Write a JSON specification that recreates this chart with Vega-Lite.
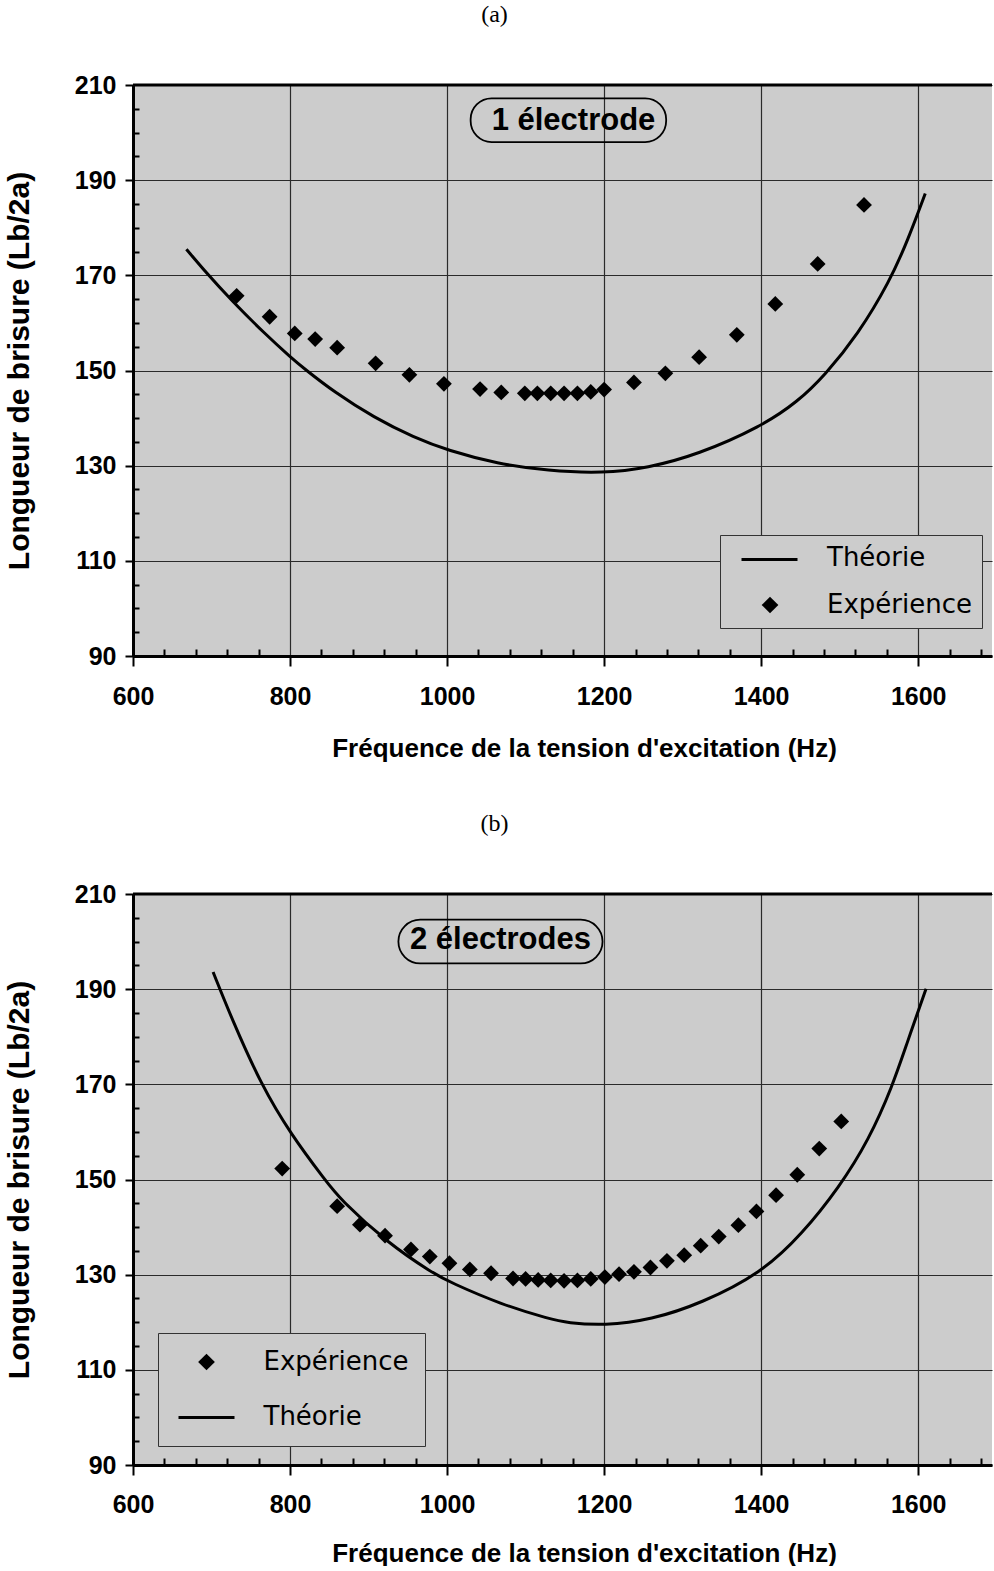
{
  "$schema": "https://vega.github.io/schema/vega-lite/v6.json",
  "padding": {"left": 4, "top": 3, "right": 0, "bottom": 0},
  "config": {
    "view": {"stroke": null, "fill": "#cccccc"},
    "concat": {"spacing": 51},
    "title": {"font": "Liberation Serif", "fontSize": 24, "fontWeight": "normal", "color": "black", "anchor": "middle"}
  },
  "resolve": {
    "scale": {"shape": "independent", "color": "independent"},
    "legend": {"shape": "independent", "color": "independent"}
  },
  "datasets": {
    "expA": [
      {"f": 732, "L": 165.7, "s": "Expérience"},
      {"f": 774, "L": 161.3, "s": "Expérience"},
      {"f": 806, "L": 157.8, "s": "Expérience"},
      {"f": 832, "L": 156.6, "s": "Expérience"},
      {"f": 860, "L": 154.8, "s": "Expérience"},
      {"f": 909, "L": 151.5, "s": "Expérience"},
      {"f": 952, "L": 149.1, "s": "Expérience"},
      {"f": 996, "L": 147.2, "s": "Expérience"},
      {"f": 1042, "L": 146.1, "s": "Expérience"},
      {"f": 1069, "L": 145.4, "s": "Expérience"},
      {"f": 1099, "L": 145.2, "s": "Expérience"},
      {"f": 1115, "L": 145.2, "s": "Expérience"},
      {"f": 1132, "L": 145.2, "s": "Expérience"},
      {"f": 1149, "L": 145.2, "s": "Expérience"},
      {"f": 1166, "L": 145.2, "s": "Expérience"},
      {"f": 1183, "L": 145.5, "s": "Expérience"},
      {"f": 1200, "L": 146.0, "s": "Expérience"},
      {"f": 1238, "L": 147.5, "s": "Expérience"},
      {"f": 1278, "L": 149.4, "s": "Expérience"},
      {"f": 1321, "L": 152.8, "s": "Expérience"},
      {"f": 1369, "L": 157.5, "s": "Expérience"},
      {"f": 1418, "L": 164.0, "s": "Expérience"},
      {"f": 1472, "L": 172.4, "s": "Expérience"},
      {"f": 1531, "L": 184.8, "s": "Expérience"}
    ],
    "theoA": [
      {"f": 668, "L": 175.5, "s": "Théorie"}, {"f": 694, "L": 170.4, "s": "Théorie"},
      {"f": 725, "L": 164.8, "s": "Théorie"}, {"f": 768, "L": 157.7, "s": "Théorie"},
      {"f": 802, "L": 152.6, "s": "Théorie"}, {"f": 818, "L": 150.4, "s": "Théorie"},
      {"f": 856, "L": 145.5, "s": "Théorie"}, {"f": 907, "L": 140.1, "s": "Théorie"},
      {"f": 958, "L": 135.9, "s": "Théorie"}, {"f": 1001, "L": 133.2, "s": "Théorie"},
      {"f": 1064, "L": 130.4, "s": "Théorie"}, {"f": 1128, "L": 128.9, "s": "Théorie"},
      {"f": 1199, "L": 128.4, "s": "Théorie"}, {"f": 1255, "L": 129.5, "s": "Théorie"},
      {"f": 1319, "L": 132.3, "s": "Théorie"}, {"f": 1400, "L": 138.2, "s": "Théorie"},
      {"f": 1447, "L": 143.5, "s": "Théorie"}, {"f": 1481, "L": 149.0, "s": "Théorie"},
      {"f": 1523, "L": 157.5, "s": "Théorie"}, {"f": 1564, "L": 168.8, "s": "Théorie"},
      {"f": 1587, "L": 177.5, "s": "Théorie"}, {"f": 1609, "L": 187.2, "s": "Théorie"}
    ],
    "expB": [
      {"f": 790, "L": 152.3, "s": "Expérience"},
      {"f": 860, "L": 144.4, "s": "Expérience"},
      {"f": 889, "L": 140.5, "s": "Expérience"},
      {"f": 921, "L": 138.2, "s": "Expérience"},
      {"f": 954, "L": 135.3, "s": "Expérience"},
      {"f": 978, "L": 133.8, "s": "Expérience"},
      {"f": 1003, "L": 132.4, "s": "Expérience"},
      {"f": 1029, "L": 131.1, "s": "Expérience"},
      {"f": 1056, "L": 130.3, "s": "Expérience"},
      {"f": 1084, "L": 129.2, "s": "Expérience"},
      {"f": 1100, "L": 129.1, "s": "Expérience"},
      {"f": 1116, "L": 128.9, "s": "Expérience"},
      {"f": 1132, "L": 128.8, "s": "Expérience"},
      {"f": 1149, "L": 128.7, "s": "Expérience"},
      {"f": 1166, "L": 128.8, "s": "Expérience"},
      {"f": 1183, "L": 129.1, "s": "Expérience"},
      {"f": 1201, "L": 129.5, "s": "Expérience"},
      {"f": 1219, "L": 130.1, "s": "Expérience"},
      {"f": 1238, "L": 130.6, "s": "Expérience"},
      {"f": 1259, "L": 131.5, "s": "Expérience"},
      {"f": 1280, "L": 132.9, "s": "Expérience"},
      {"f": 1302, "L": 134.1, "s": "Expérience"},
      {"f": 1323, "L": 136.1, "s": "Expérience"},
      {"f": 1346, "L": 138.0, "s": "Expérience"},
      {"f": 1371, "L": 140.4, "s": "Expérience"},
      {"f": 1394, "L": 143.3, "s": "Expérience"},
      {"f": 1419, "L": 146.7, "s": "Expérience"},
      {"f": 1446, "L": 151.0, "s": "Expérience"},
      {"f": 1474, "L": 156.5, "s": "Expérience"},
      {"f": 1502, "L": 162.2, "s": "Expérience"}
    ],
    "theoB": [
      {"f": 702, "L": 193.6, "s": "Théorie"}, {"f": 727, "L": 183.3, "s": "Théorie"},
      {"f": 763, "L": 170.0, "s": "Théorie"}, {"f": 801, "L": 159.5, "s": "Théorie"},
      {"f": 846, "L": 149.6, "s": "Théorie"}, {"f": 863, "L": 146.0, "s": "Théorie"},
      {"f": 923, "L": 136.8, "s": "Théorie"}, {"f": 983, "L": 130.2, "s": "Théorie"},
      {"f": 1004, "L": 128.4, "s": "Théorie"}, {"f": 1068, "L": 123.8, "s": "Théorie"},
      {"f": 1132, "L": 120.6, "s": "Théorie"}, {"f": 1153, "L": 119.9, "s": "Théorie"},
      {"f": 1200, "L": 119.3, "s": "Théorie"}, {"f": 1260, "L": 120.5, "s": "Théorie"},
      {"f": 1324, "L": 124.0, "s": "Théorie"}, {"f": 1400, "L": 130.3, "s": "Théorie"},
      {"f": 1452, "L": 138.5, "s": "Théorie"}, {"f": 1500, "L": 148.5, "s": "Théorie"},
      {"f": 1537, "L": 158.3, "s": "Théorie"}, {"f": 1567, "L": 169.5, "s": "Théorie"},
      {"f": 1586, "L": 178.8, "s": "Théorie"}, {"f": 1610, "L": 190.1, "s": "Théorie"}
    ]
  },
  "vconcat": [
    {
      "title": {"text": "(a)", "dx": -68, "offset": 46},
      "width": 859,
      "height": 571,
      "encoding": {
        "x": {
          "field": "f", "type": "quantitative",
          "scale": {"domain": [600, 1694], "nice": false, "zero": false},
          "axis": {
            "values": [600,640,680,720,760,800,840,880,920,960,1000,1040,1080,1120,1160,1200,1240,1280,1320,1360,1400,1440,1480,1520,1560,1600,1640,1680],
            "format": "d",
            "labelExpr": "(datum.value - 600) % 200 === 0 ? datum.label : ''",
            "tickSize": {"condition": {"test": "(datum.value - 600) % 200 === 0", "value": 10}, "value": -7},
            "grid": true,
            "gridColor": "#2a2a2a",
            "gridWidth": 1.2,
            "gridOpacity": {"condition": {"test": "(datum.value - 600) % 200 === 0", "value": 1}, "value": 0},
            "domainColor": "black", "domainWidth": 3,
            "tickColor": "black", "tickWidth": 2,
            "labelFont": "Liberation Sans", "labelFontWeight": "bold", "labelFontSize": 25, "labelColor": "black",
            "labelPadding": 18, "labelOverlap": false, "labelFlush": false, "labelBound": false,
            "title": "Fréquence de la tension d'excitation (Hz)",
            "titleFont": "Liberation Sans", "titleFontWeight": "bold", "titleFontSize": 26, "titleColor": "black",
            "titlePadding": 26, "titleX": 451
          }
        },
        "y": {
          "field": "L", "type": "quantitative",
          "scale": {"domain": [90, 210], "nice": false, "zero": false},
          "axis": {
            "values": [90,95,100,105,110,115,120,125,130,135,140,145,150,155,160,165,170,175,180,185,190,195,200,205,210],
            "format": "d",
            "labelExpr": "(datum.value - 90) % 20 === 0 ? datum.label : ''",
            "tickSize": {"condition": {"test": "(datum.value - 90) % 20 === 0", "value": 8}, "value": -6},
            "grid": true,
            "gridColor": "#2a2a2a",
            "gridWidth": 1.2,
            "gridOpacity": {"condition": {"test": "(datum.value - 90) % 20 === 0", "value": 1}, "value": 0},
            "domainColor": "black", "domainWidth": 3,
            "tickColor": "black", "tickWidth": 2,
            "labelFont": "Liberation Sans", "labelFontWeight": "bold", "labelFontSize": 25, "labelColor": "black",
            "labelPadding": 9, "labelOverlap": false, "labelBound": false,
            "title": "Longueur de brisure (Lb/2a)",
            "titleFont": "Liberation Sans", "titleFontWeight": "bold", "titleFontSize": 30, "titleColor": "black",
            "titlePadding": 40
          }
        }
      },
      "layer": [
        {
          "data": {"values": [{"f": 1030, "f2": 1279, "L": 198.0, "L2": 207.2}]},
          "mark": {"type": "rect", "filled": false, "stroke": "black", "strokeWidth": 1.8, "cornerRadius": 21},
          "encoding": {"x2": {"field": "f2"}, "y2": {"field": "L2"}}
        },
        {
          "data": {"values": [{"f": 1161, "L": 202.4, "t": "1 électrode"}]},
          "mark": {"type": "text", "font": "Liberation Sans", "fontWeight": "bold", "fontSize": 31, "color": "black", "align": "center", "baseline": "middle"},
          "encoding": {"text": {"field": "t"}}
        },
        {
          "data": {"values": [{"f": 600, "f2": 1694, "L": 210}]},
          "mark": {"type": "rule", "color": "black", "strokeWidth": 3},
          "encoding": {"x2": {"field": "f2"}}
        },
        {
          "data": {"name": "expA"},
          "mark": {"type": "point", "filled": true, "color": "black", "opacity": 1, "size": 250},
          "encoding": {
            "shape": {
              "field": "s", "type": "nominal",
              "scale": {"domain": ["Théorie", "Expérience"], "range": ["stroke", "diamond"]},
              "legend": {
                "orient": "none", "legendX": 587, "legendY": 450, "title": null,
                "fillColor": "#cccccc", "strokeColor": "#333333", "padding": 10,
                "symbolSize": 280, "symbolOffset": 27, "symbolFillColor": "black",
                "labelFont": "DejaVu Sans", "labelFontSize": 26, "labelColor": "black", "labelOffset": 44, "rowPadding": 21
              }
            }
          }
        },
        {
          "data": {"name": "theoA"},
          "mark": {"type": "line", "strokeWidth": 3, "interpolate": "basis"},
          "encoding": {
            "color": {
              "field": "s", "type": "nominal",
              "scale": {"domain": ["Théorie"], "range": ["black"]},
              "legend": {
                "orient": "none", "legendX": 607, "legendY": 445, "title": null,
                "padding": 0, "symbolType": "stroke", "symbolSize": 3136, "symbolStrokeWidth": 3,
                "symbolStrokeColor": "black", "labelExpr": "''", "labelFontSize": 1
              }
            }
          }
        }
      ]
    },
    {
      "title": {"text": "(b)", "dx": -68, "offset": 46},
      "width": 859,
      "height": 571,
      "encoding": {
        "x": {
          "field": "f", "type": "quantitative",
          "scale": {"domain": [600, 1694], "nice": false, "zero": false},
          "axis": {
            "values": [600,640,680,720,760,800,840,880,920,960,1000,1040,1080,1120,1160,1200,1240,1280,1320,1360,1400,1440,1480,1520,1560,1600,1640,1680],
            "format": "d",
            "labelExpr": "(datum.value - 600) % 200 === 0 ? datum.label : ''",
            "tickSize": {"condition": {"test": "(datum.value - 600) % 200 === 0", "value": 10}, "value": -7},
            "grid": true,
            "gridColor": "#2a2a2a",
            "gridWidth": 1.2,
            "gridOpacity": {"condition": {"test": "(datum.value - 600) % 200 === 0", "value": 1}, "value": 0},
            "domainColor": "black", "domainWidth": 3,
            "tickColor": "black", "tickWidth": 2,
            "labelFont": "Liberation Sans", "labelFontWeight": "bold", "labelFontSize": 25, "labelColor": "black",
            "labelPadding": 17, "labelOverlap": false, "labelFlush": false, "labelBound": false,
            "title": "Fréquence de la tension d'excitation (Hz)",
            "titleFont": "Liberation Sans", "titleFontWeight": "bold", "titleFontSize": 26, "titleColor": "black",
            "titlePadding": 23, "titleX": 451
          }
        },
        "y": {
          "field": "L", "type": "quantitative",
          "scale": {"domain": [90, 210], "nice": false, "zero": false},
          "axis": {
            "values": [90,95,100,105,110,115,120,125,130,135,140,145,150,155,160,165,170,175,180,185,190,195,200,205,210],
            "format": "d",
            "labelExpr": "(datum.value - 90) % 20 === 0 ? datum.label : ''",
            "tickSize": {"condition": {"test": "(datum.value - 90) % 20 === 0", "value": 8}, "value": -6},
            "grid": true,
            "gridColor": "#2a2a2a",
            "gridWidth": 1.2,
            "gridOpacity": {"condition": {"test": "(datum.value - 90) % 20 === 0", "value": 1}, "value": 0},
            "domainColor": "black", "domainWidth": 3,
            "tickColor": "black", "tickWidth": 2,
            "labelFont": "Liberation Sans", "labelFontWeight": "bold", "labelFontSize": 25, "labelColor": "black",
            "labelPadding": 9, "labelOverlap": false, "labelBound": false,
            "title": "Longueur de brisure (Lb/2a)",
            "titleFont": "Liberation Sans", "titleFontWeight": "bold", "titleFontSize": 30, "titleColor": "black",
            "titlePadding": 40
          }
        }
      },
      "layer": [
        {
          "data": {"values": [{"f": 938, "f2": 1198, "L": 195.4, "L2": 204.6}]},
          "mark": {"type": "rect", "filled": false, "stroke": "black", "strokeWidth": 1.8, "cornerRadius": 22},
          "encoding": {"x2": {"field": "f2"}, "y2": {"field": "L2"}}
        },
        {
          "data": {"values": [{"f": 1068, "L": 200.3, "t": "2 électrodes"}]},
          "mark": {"type": "text", "font": "Liberation Sans", "fontWeight": "bold", "fontSize": 31, "color": "black", "align": "center", "baseline": "middle"},
          "encoding": {"text": {"field": "t"}}
        },
        {
          "data": {"values": [{"f": 600, "f2": 1694, "L": 210}]},
          "mark": {"type": "rule", "color": "black", "strokeWidth": 3},
          "encoding": {"x2": {"field": "f2"}}
        },
        {
          "data": {"name": "expB"},
          "mark": {"type": "point", "filled": true, "color": "black", "opacity": 1, "size": 250},
          "encoding": {
            "shape": {
              "field": "s", "type": "nominal",
              "scale": {"domain": ["Expérience", "Théorie"], "range": ["diamond", "stroke"]},
              "legend": {
                "orient": "none", "legendX": 25, "legendY": 439, "title": null,
                "fillColor": "#cccccc", "strokeColor": "#333333", "padding": 16,
                "symbolSize": 280, "symbolOffset": 19.5, "symbolFillColor": "black",
                "labelFont": "DejaVu Sans", "labelFontSize": 26, "labelColor": "black", "labelOffset": 44, "rowPadding": 29
              }
            }
          }
        },
        {
          "data": {"name": "theoB"},
          "mark": {"type": "line", "strokeWidth": 3, "interpolate": "basis"},
          "encoding": {
            "color": {
              "field": "s", "type": "nominal",
              "scale": {"domain": ["Théorie"], "range": ["black"]},
              "legend": {
                "orient": "none", "legendX": 44, "legendY": 494, "title": null,
                "padding": 0, "symbolType": "stroke", "symbolSize": 3136, "symbolStrokeWidth": 3,
                "symbolStrokeColor": "black", "labelExpr": "''", "labelFontSize": 1
              }
            }
          }
        }
      ]
    }
  ]
}
